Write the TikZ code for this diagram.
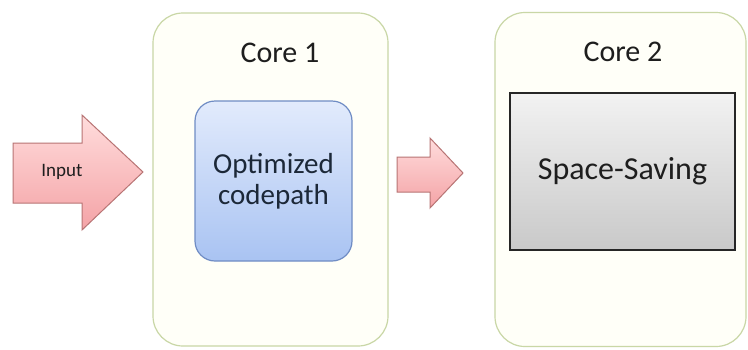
\documentclass[tikz,border=0pt]{standalone}
\usepackage{fontspec}
\setmainfont{Carlito}
\usetikzlibrary{positioning}
\definecolor{coreline}{HTML}{C9D7A6}
\definecolor{corefill}{HTML}{FFFFF8}
\definecolor{bluetop}{HTML}{E2EBFC}
\definecolor{bluebot}{HTML}{A9C3F2}
\definecolor{blueline}{HTML}{6F8CC4}
\definecolor{graytop}{HTML}{F2F2F2}
\definecolor{graybot}{HTML}{C9C9C9}
\definecolor{pinktop}{HTML}{FFDCDC}
\definecolor{pinkbot}{HTML}{F4A3A6}
\definecolor{pinkline}{HTML}{B87474}
\definecolor{txt}{HTML}{1E1E1E}
\definecolor{opttxt}{HTML}{1C2838}
\tikzset{
  corebox/.style={draw=coreline, line width=1.2pt, fill=corefill,
    rounded corners=30pt, inner sep=0pt},
  corelabel/.style={font=\fontsize{30}{33}\selectfont, text=txt},
  optbox/.style={draw=blueline, line width=1.2pt, top color=bluetop,
    bottom color=bluebot, rounded corners=20pt, align=center,
    font=\fontsize{29}{31}\selectfont, text=opttxt, inner sep=0pt},
  ssbox/.style={draw=black!85, line width=2pt, top color=graytop,
    bottom color=graybot, font=\fontsize{32}{35}\selectfont, text=txt,
    inner sep=0pt},
  pinkarrow/.style={draw=pinkline, line width=1pt, top color=pinktop,
    bottom color=pinkbot, line join=miter},
  arrowlabel/.style={font=\fontsize{19}{22}\selectfont, text=txt}
}
\begin{document}
\begin{tikzpicture}[x=1pt,y=-1pt]
  \useasboundingbox[fill=white] (0,0) rectangle (748,349);

  % the two cores
  \node[corebox, minimum width=235pt, minimum height=333pt] (core1) at (270.5,179.5) {};
  \node[corebox, minimum width=251pt, minimum height=334pt] (core2) at (620.5,179.5) {};
  \node[corelabel] (core1label) at (280,53) {Core 1};
  \node[corelabel] (core2label) at (623,52) {Core 2};

  % work done on each core
  \node[optbox, minimum width=157pt, minimum height=160pt] (opt) at (273.5,181) {Optimized\\codepath};
  \node[ssbox, minimum width=225pt, minimum height=157pt] (ss) at (622.5,171.5) {Space-Saving};

  % block arrows
  \path[pinkarrow] (13,143) -- (82,143) -- (82,115) -- (143,172) -- (82,230)
    -- (82,203) -- (13,203) -- cycle;
  \node[arrowlabel] (input) at (62,172) {Input};
  \coordinate (handoff) at (430,173);
  \path[pinkarrow] (397,157) -- (430,157) -- (430,138) -- (463,173) -- (430,208)
    -- (430,192) -- (397,192) -- cycle;
\end{tikzpicture}
\end{document}
